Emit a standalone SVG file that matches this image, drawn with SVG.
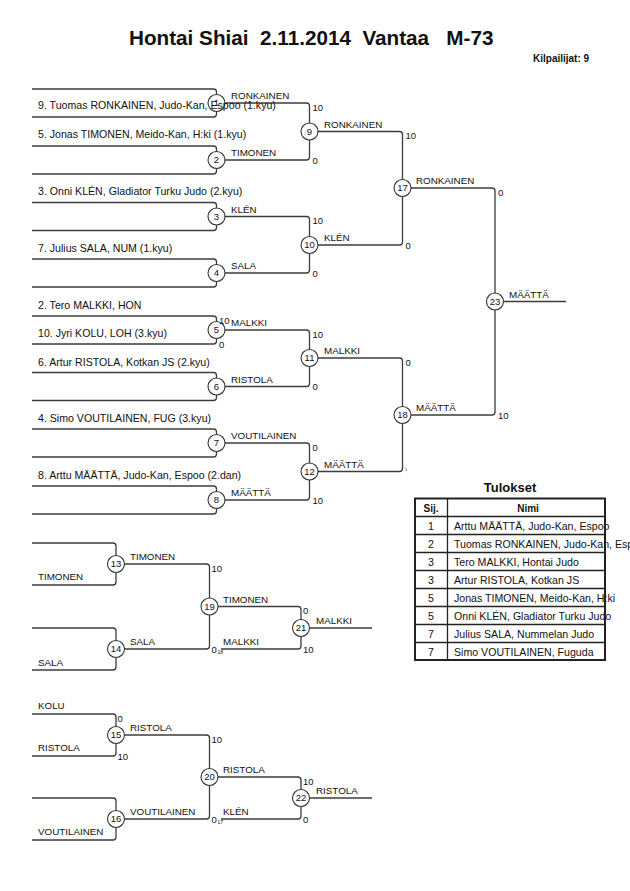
<svg xmlns="http://www.w3.org/2000/svg" width="630" height="891" viewBox="0 0 630 891">
<style>
text{font-family:"Liberation Sans",Arial,sans-serif;fill:#111}
.ln{fill:none;stroke:#3c3c3c;stroke-width:1.3}
.c{fill:#fff;stroke:#333;stroke-width:1.1}
.n{font-size:9.5px;text-anchor:middle}
.nm{font-size:10.6px}
.lb{font-size:9.8px}
.sc{font-size:9.5px}
.tiny{font-size:5px}
.t{font-size:10.6px}
.tb{stroke:#222;fill:none}
</style>
<rect width="630" height="891" fill="#fff"/>
<text x="129" y="45" font-size="20.7" font-weight="bold" xml:space="preserve">Hontai Shiai  2.11.2014  Vantaa   M-73</text>
<text x="533" y="61.5" font-size="10" font-weight="bold">Kilpailijat: 9</text>

<g id="connectors">
<path class="ln" d="M32 89 H213.5 Q216.5 89 216.5 92 V103 M32 117 H213.5 Q216.5 117 216.5 114 V103"/>
<path class="ln" d="M32 146 H213.5 Q216.5 146 216.5 149 V160 M32 174 H213.5 Q216.5 174 216.5 171 V160"/>
<path class="ln" d="M32 202.5 H213.5 Q216.5 202.5 216.5 205.5 V216.5 M32 230.5 H213.5 Q216.5 230.5 216.5 227.5 V216.5"/>
<path class="ln" d="M32 259 H213.5 Q216.5 259 216.5 262 V273 M32 287 H213.5 Q216.5 287 216.5 284 V273"/>
<path class="ln" d="M32 316 H213.5 Q216.5 316 216.5 319 V330 M32 344 H213.5 Q216.5 344 216.5 341 V330"/>
<path class="ln" d="M32 372.5 H213.5 Q216.5 372.5 216.5 375.5 V386.5 M32 400.5 H213.5 Q216.5 400.5 216.5 397.5 V386.5"/>
<path class="ln" d="M32 429 H213.5 Q216.5 429 216.5 432 V443 M32 457 H213.5 Q216.5 457 216.5 454 V443"/>
<path class="ln" d="M32 486 H213.5 Q216.5 486 216.5 489 V500 M32 514 H213.5 Q216.5 514 216.5 511 V500"/>
<path class="ln" d="M216.5 103 H306.5 Q309.5 103 309.5 106 V131.5 M216.5 160 H306.5 Q309.5 160 309.5 157 V131.5"/>
<path class="ln" d="M216.5 216.5 H306.5 Q309.5 216.5 309.5 219.5 V245 M216.5 273 H306.5 Q309.5 273 309.5 270 V245"/>
<path class="ln" d="M216.5 330 H306.5 Q309.5 330 309.5 333 V358 M216.5 386.5 H306.5 Q309.5 386.5 309.5 383.5 V358"/>
<path class="ln" d="M216.5 443 H306.5 Q309.5 443 309.5 446 V471.5 M216.5 500 H306.5 Q309.5 500 309.5 497 V471.5"/>
<path class="ln" d="M309.5 131.5 H399.5 Q402.5 131.5 402.5 134.5 V188 M309.5 245 H399.5 Q402.5 245 402.5 242 V188"/>
<path class="ln" d="M309.5 358 H399.5 Q402.5 358 402.5 361 V415 M309.5 471.5 H399.5 Q402.5 471.5 402.5 468.5 V415"/>
<path class="ln" d="M402.5 188 H492 Q495 188 495 191 V301.5 M402.5 415 H492 Q495 415 495 412 V301.5 M495 301.5 H566"/>
<path class="ln" d="M32 543 H113 Q116 543 116 546 V564 M32 585 H113 Q116 585 116 582 V564"/>
<path class="ln" d="M32 628 H113 Q116 628 116 631 V649 M32 670 H113 Q116 670 116 667 V649"/>
<path class="ln" d="M32 714 H113 Q116 714 116 717 V735 M32 756 H113 Q116 756 116 753 V735"/>
<path class="ln" d="M32 798 H113 Q116 798 116 801 V819 M32 840 H113 Q116 840 116 837 V819"/>
<path class="ln" d="M116 564 H206.5 Q209.5 564 209.5 567 V606.5 M116 649 H206.5 Q209.5 649 209.5 646 V606.5"/>
<path class="ln" d="M116 735 H206.5 Q209.5 735 209.5 738 V777 M116 819 H206.5 Q209.5 819 209.5 816 V777"/>
<path class="ln" d="M209.5 606.5 H298 Q301 606.5 301 609.5 V628 M221 649 H298 Q301 649 301 646 V628 M301 628 H372"/>
<path class="ln" d="M209.5 777 H298 Q301 777 301 780 V798 M221 819 H298 Q301 819 301 816 V798 M301 798 H372"/>
</g>

<g id="m1"><circle class="c" cx="216.5" cy="103" r="8.5"/><text class="n" x="216.5" y="106.4">1</text></g>
<g id="m2"><circle class="c" cx="216.5" cy="160" r="8.5"/><text class="n" x="216.5" y="163.4">2</text></g>
<g id="m3"><circle class="c" cx="216.5" cy="216.5" r="8.5"/><text class="n" x="216.5" y="219.9">3</text></g>
<g id="m4"><circle class="c" cx="216.5" cy="273" r="8.5"/><text class="n" x="216.5" y="276.4">4</text></g>
<g id="m5"><circle class="c" cx="216.5" cy="330" r="8.5"/><text class="n" x="216.5" y="333.4">5</text></g>
<g id="m6"><circle class="c" cx="216.5" cy="386.5" r="8.5"/><text class="n" x="216.5" y="389.9">6</text></g>
<g id="m7"><circle class="c" cx="216.5" cy="443" r="8.5"/><text class="n" x="216.5" y="446.4">7</text></g>
<g id="m8"><circle class="c" cx="216.5" cy="500" r="8.5"/><text class="n" x="216.5" y="503.4">8</text></g>
<g id="m9"><circle class="c" cx="309.5" cy="131.5" r="8.5"/><text class="n" x="309.5" y="134.9">9</text></g>
<g id="m10"><circle class="c" cx="309.5" cy="245" r="8.5"/><text class="n" x="309.5" y="248.4">10</text></g>
<g id="m11"><circle class="c" cx="309.5" cy="358" r="8.5"/><text class="n" x="309.5" y="361.4">11</text></g>
<g id="m12"><circle class="c" cx="309.5" cy="471.5" r="8.5"/><text class="n" x="309.5" y="474.9">12</text></g>
<g id="m17"><circle class="c" cx="402.5" cy="188" r="8.5"/><text class="n" x="402.5" y="191.4">17</text></g>
<g id="m18"><circle class="c" cx="402.5" cy="415" r="8.5"/><text class="n" x="402.5" y="418.4">18</text></g>
<g id="m23"><circle class="c" cx="495" cy="301.5" r="8.5"/><text class="n" x="495" y="304.9">23</text></g>
<g id="m13"><circle class="c" cx="116" cy="564" r="8.5"/><text class="n" x="116" y="567.4">13</text></g>
<g id="m14"><circle class="c" cx="116" cy="649" r="8.5"/><text class="n" x="116" y="652.4">14</text></g>
<g id="m15"><circle class="c" cx="116" cy="735" r="8.5"/><text class="n" x="116" y="738.4">15</text></g>
<g id="m16"><circle class="c" cx="116" cy="819" r="8.5"/><text class="n" x="116" y="822.4">16</text></g>
<g id="m19"><circle class="c" cx="209.5" cy="606.5" r="8.5"/><text class="n" x="209.5" y="609.9">19</text></g>
<g id="m20"><circle class="c" cx="209.5" cy="777" r="8.5"/><text class="n" x="209.5" y="780.4">20</text></g>
<g id="m21"><circle class="c" cx="301" cy="628" r="8.5"/><text class="n" x="301" y="631.4">21</text></g>
<g id="m22"><circle class="c" cx="301" cy="798" r="8.5"/><text class="n" x="301" y="801.4">22</text></g>

<g id="competitors" class="nm">
<text x="38" y="109">9. Tuomas RONKAINEN, Judo-Kan, Espoo (1.kyu)</text>
<text x="38" y="137.5">5. Jonas TIMONEN, Meido-Kan, H:ki (1.kyu)</text>
<text x="38" y="195">3. Onni KLÉN, Gladiator Turku Judo (2.kyu)</text>
<text x="38" y="252">7. Julius SALA, NUM (1.kyu)</text>
<text x="38" y="308.5">2. Tero MALKKI, HON</text>
<text x="38" y="336.5">10. Jyri KOLU, LOH (3.kyu)</text>
<text x="38" y="365.5">6. Artur RISTOLA, Kotkan JS (2.kyu)</text>
<text x="38" y="422">4. Simo VOUTILAINEN, FUG (3.kyu)</text>
<text x="38" y="479">8. Arttu MÄÄTTÄ, Judo-Kan, Espoo (2.dan)</text>
</g>
<g id="repechage-names" class="lb">
<text x="38" y="580">TIMONEN</text>
<text x="38" y="665.5">SALA</text>
<text x="38" y="708.5">KOLU</text>
<text x="38" y="750.5">RISTOLA</text>
<text x="38" y="835">VOUTILAINEN</text>
</g>

<g id="labels" class="lb">
<text x="231" y="99">RONKAINEN</text>
<text x="231" y="156">TIMONEN</text>
<text x="231" y="212.5">KLÉN</text>
<text x="231" y="269">SALA</text>
<text x="231" y="326">MALKKI</text>
<text x="231" y="382.5">RISTOLA</text>
<text x="231" y="439">VOUTILAINEN</text>
<text x="231" y="496">MÄÄTTÄ</text>
<text x="324" y="127.5">RONKAINEN</text>
<text x="324" y="241">KLÉN</text>
<text x="324" y="354">MALKKI</text>
<text x="324" y="467.5">MÄÄTTÄ</text>
<text x="416" y="184">RONKAINEN</text>
<text x="416" y="411">MÄÄTTÄ</text>
<text x="509" y="297.5">MÄÄTTÄ</text>
<text x="130" y="560">TIMONEN</text>
<text x="130" y="645">SALA</text>
<text x="130" y="731">RISTOLA</text>
<text x="130" y="815">VOUTILAINEN</text>
<text x="223" y="602.5">TIMONEN</text>
<text x="223" y="645">MALKKI</text>
<text x="223" y="773">RISTOLA</text>
<text x="223" y="815">KLÉN</text>
<text x="316" y="624">MALKKI</text>
<text x="316" y="794">RISTOLA</text>
</g>

<g id="scores" class="sc">
<text x="219" y="323.5">10</text>
<text x="219" y="347.5">0</text>
<text x="312.5" y="110.5">10</text>
<text x="312.5" y="163.5">0</text>
<text x="312.5" y="224">10</text>
<text x="312.5" y="276.5">0</text>
<text x="312.5" y="337.5">10</text>
<text x="312.5" y="390">0</text>
<text x="312.5" y="450.5">0</text>
<text x="312.5" y="503.5">10</text>
<text x="405.5" y="139">10</text>
<text x="405.5" y="248.5">0</text>
<text x="405.5" y="365.5">0</text>
<text x="405" y="471" font-size="4" fill="#c9a800">1</text>
<text x="498" y="195.5">0</text>
<text x="498" y="418.5">10</text>
<text x="117.5" y="721.5">0</text>
<text x="117.5" y="759.5">10</text>
<text x="211.5" y="571.5">10</text>
<text x="211.5" y="652.5">0</text>
<text class="tiny" x="217.5" y="654">18</text>
<text x="211.5" y="742.5">10</text>
<text x="211.5" y="822.5">0</text>
<text class="tiny" x="217.5" y="824">17</text>
<text x="303" y="614">0</text>
<text x="303" y="652.5">10</text>
<text x="303" y="784.5">10</text>
<text x="303" y="822.5">0</text>
</g>

<g id="results">
<text x="510" y="492" font-size="13" font-weight="bold" text-anchor="middle">Tulokset</text>
<text x="431" y="512" font-size="10" font-weight="bold" text-anchor="middle">Sij.</text>
<text x="528" y="512" font-size="10" font-weight="bold" text-anchor="middle">Nimi</text>
<g class="t">
<text x="431" y="530" text-anchor="middle" fill="#d4c060">1</text>
<text x="431" y="548" text-anchor="middle">2</text>
<text x="431" y="566" text-anchor="middle">3</text>
<text x="431" y="584" text-anchor="middle">3</text>
<text x="431" y="602" text-anchor="middle">5</text>
<text x="431" y="620" text-anchor="middle">5</text>
<text x="431" y="638" text-anchor="middle">7</text>
<text x="431" y="656" text-anchor="middle">7</text>
<text x="454" y="530">Arttu MÄÄTTÄ, Judo-Kan, Espoo</text>
<text x="454" y="548">Tuomas RONKAINEN, Judo-Kan, Espoo</text>
<text x="454" y="566">Tero MALKKI, Hontai Judo</text>
<text x="454" y="584">Artur RISTOLA, Kotkan JS</text>
<text x="454" y="602">Jonas TIMONEN, Meido-Kan, H:ki</text>
<text x="454" y="620">Onni KLÉN, Gladiator Turku Judo</text>
<text x="454" y="638">Julius SALA, Nummelan Judo</text>
<text x="454" y="656">Simo VOUTILAINEN, Fuguda</text>
</g>
<path class="tb" stroke-width="1.3" d="M415 516.5 H605 M415 534.5 H605 M415 552.5 H605 M415 570.5 H605 M415 588.5 H605 M415 606.5 H605 M415 624.5 H605 M415 642.5 H605 M447.5 498.5 V660"/>
<rect class="tb" x="415" y="498.5" width="190" height="161.5" stroke-width="2"/>
</g>
</svg>
